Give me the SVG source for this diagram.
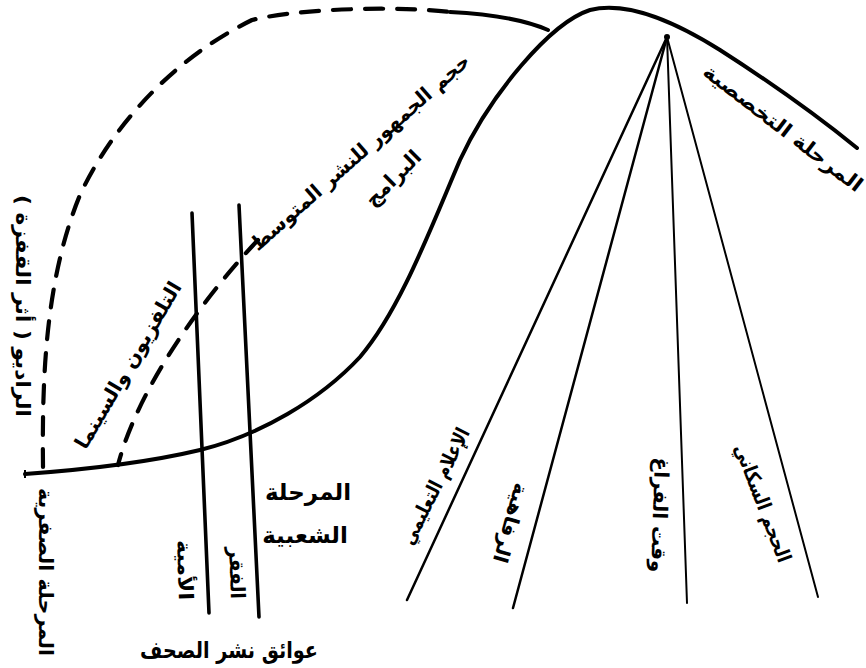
<svg xmlns="http://www.w3.org/2000/svg" width="866" height="668" viewBox="0 0 866 668">
<style>
.bg{fill:#fff}
.curve{fill:none;stroke:#000;stroke-width:4;stroke-linecap:round;stroke-linejoin:round}
.dash{fill:none;stroke:#000;stroke-width:4.2;stroke-linecap:round;stroke-dasharray:18 14}
.vline{fill:none;stroke:#000;stroke-width:3.6;stroke-linecap:round}
.fan{fill:none;stroke:#000;stroke-width:2;stroke-linecap:round}
.lbl{font-family:"DejaVu Sans",sans-serif;font-size:20px;font-weight:bold;fill:#000;text-anchor:middle}
.big{font-family:"DejaVu Sans",sans-serif;font-size:23px;font-weight:bold;fill:#000;text-anchor:middle}
</style>
<rect class="bg" x="0" y="0" width="866" height="668"/>
<g id="connectors">
  <path id="main-curve" class="curve" d="M25,474 C80,470 150,462 200,450 C260,435 320,400 360,357 C400,310 430,230 460,160 C490,95 550,23 590,10 C630,0 680,25 720,50 C770,82 820,118 857,148"/>
  <path id="radio-curve" class="dash" d="M43,467 C42,380 45,280 80,195 C110,130 170,60 252,20 C300,8 400,6 450,12"/>
  <path id="radio-curve-end" class="curve" d="M450,12 C490,14 525,20 548,30"/>
  <path id="tv-curve" class="dash" d="M258,240 C215,285 140,380 118,465"/>
  <line id="literacy-line" class="vline" x1="192" y1="213" x2="209" y2="613"/>
  <line id="poverty-line" class="vline" x1="239" y1="205" x2="259" y2="617"/>
  <line class="fan" x1="667" y1="37" x2="407" y2="600" style="stroke-width:2.5"/>
  <line class="fan" x1="667" y1="37" x2="513" y2="608" style="stroke-width:2.5"/>
  <line class="fan" x1="667" y1="37" x2="687" y2="603"/>
  <line class="fan" x1="667" y1="37" x2="818" y2="597"/>
  <circle cx="667" cy="37" r="3" fill="#000"/>
  <line x1="25" y1="470" x2="25" y2="478" stroke="#000" stroke-width="2"/>
</g>
<g id="label-audience">
  <text class="lbl" transform="translate(360,152) rotate(-41.5)" y="7" font-size="21" textLength="285" lengthAdjust="spacingAndGlyphs">حجم الجمهور للنشر المتوسط</text>
</g>
<g id="label-programs">
  <text class="lbl" transform="translate(393,178) rotate(-45)" y="7" textLength="70" lengthAdjust="spacingAndGlyphs">البرامج</text>
</g>
<g id="label-tv">
  <text class="lbl" transform="translate(128,365) rotate(-59.5)" y="7" textLength="190" lengthAdjust="spacingAndGlyphs">التلفزيون والسينما</text>
</g>
<g id="label-radio">
  <text class="lbl" transform="translate(23,306) rotate(90)" y="7" textLength="222" lengthAdjust="spacingAndGlyphs">الراديو ( أثر القفزة )</text>
</g>
<g id="label-zero-stage">
  <text class="lbl" transform="translate(46,572) rotate(90)" y="7" textLength="168" lengthAdjust="spacingAndGlyphs">المرحلة الصفرية</text>
</g>
<g id="label-illiteracy">
  <text class="lbl" transform="translate(185,570) rotate(88)" y="7" textLength="60" lengthAdjust="spacingAndGlyphs">الأمية</text>
</g>
<g id="label-poverty">
  <text class="lbl" transform="translate(237,573) rotate(88)" y="7" textLength="52" lengthAdjust="spacingAndGlyphs">الفقر</text>
</g>
<g id="label-popular-stage">
  <text class="big" x="308" y="500">المرحلة</text>
  <text class="big" x="305" y="543">الشعبية</text>
</g>
<g id="label-obstacles">
  <text class="big" x="229" y="658" font-size="22" textLength="178" lengthAdjust="spacingAndGlyphs">عوائق نشر الصحف</text>
</g>
<g id="label-specialized-stage">
  <text class="lbl" transform="translate(783,128) rotate(37.5)" y="7" font-size="21" textLength="195" lengthAdjust="spacingAndGlyphs">المرحلة التخصصية</text>
</g>
<g id="label-population">
  <text class="lbl" transform="translate(763,503) rotate(69)" y="7" textLength="125" lengthAdjust="spacingAndGlyphs">الحجم السكاني</text>
</g>
<g id="label-leisure">
  <text class="lbl" transform="translate(660,515) rotate(92)" y="7" textLength="115" lengthAdjust="spacingAndGlyphs">وقت الفراغ</text>
</g>
<g id="label-welfare">
  <text class="lbl" transform="translate(511,523) rotate(106)" y="7" textLength="82" lengthAdjust="spacingAndGlyphs">الرفاهية</text>
</g>
<g id="label-edu-media">
  <text class="lbl" transform="translate(435,486) rotate(-63)" y="7" textLength="128" lengthAdjust="spacingAndGlyphs">الإعلام التعليمي</text>
</g>
</svg>
